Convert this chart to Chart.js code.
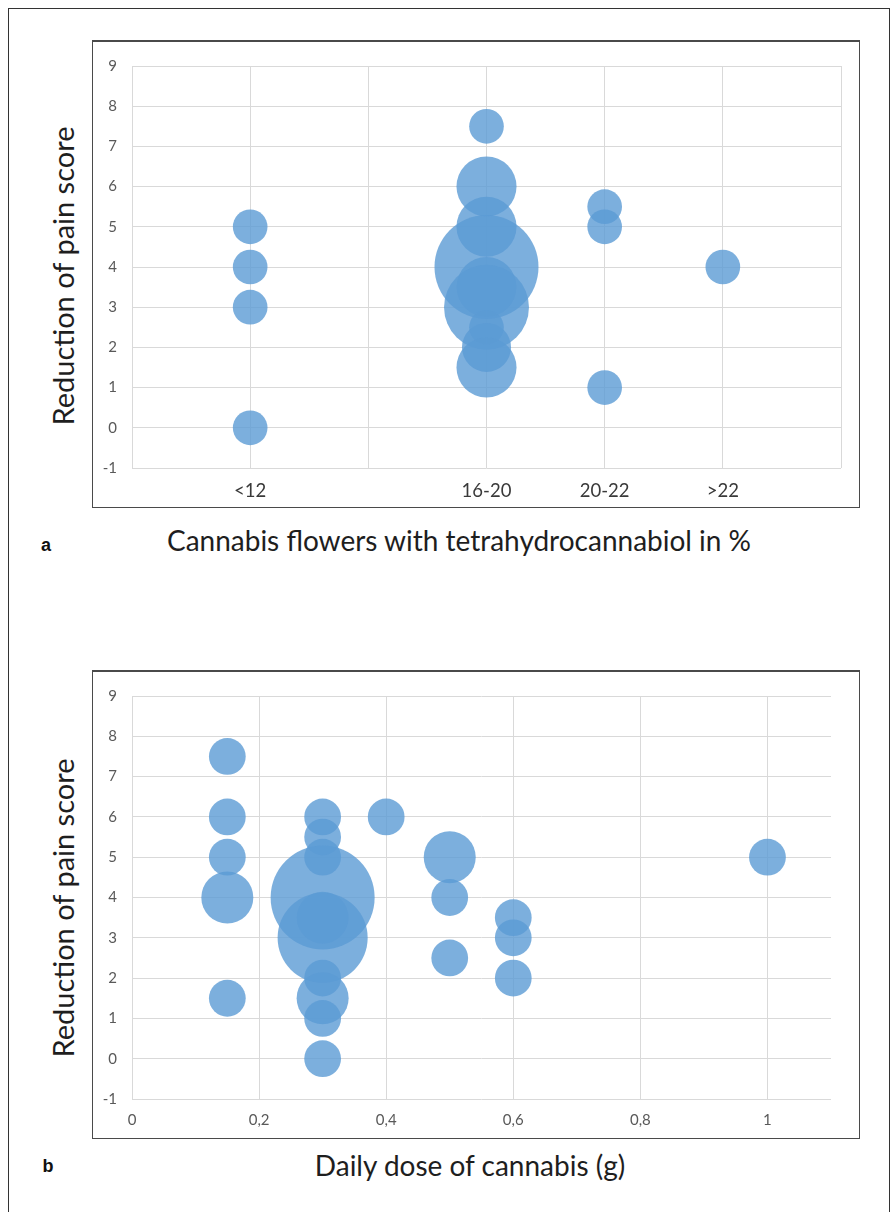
<!DOCTYPE html>
<html>
<head>
<meta charset="utf-8">
<script src="https://cdn.jsdelivr.net/npm/chart.js@4.4.1/dist/chart.umd.min.js"></script>
<style>
  html, body { margin: 0; padding: 0; background: #fff; }
  body { width: 896px; height: 1212px; position: relative; overflow: hidden; font-family: Lato, "Open Sans", sans-serif; }
  .sheet { position: absolute; left: 8px; top: 8px; width: 882px; height: 1300px; border: 1.5px solid #333; box-sizing: border-box; }
  .frame { position: absolute; left: 92px; width: 768px; border: 1px solid #4a4a4a; border-top-width: 2px; box-sizing: border-box; background: #fff; }
  .frame canvas { display: block; }
  .ytitle { position: absolute; font-size: 29px; color: #1e1e1e; white-space: nowrap; transform: translate(-50%, -50%) rotate(-90deg); }
  .xtitle { position: absolute; font-size: 28px; color: #1e1e1e; white-space: nowrap; transform: translate(-50%, -50%); }
  .tag { position: absolute; font: bold 18px "Liberation Sans", Arial, sans-serif; color: #111; transform: translate(-50%, -50%); }
</style>
</head>
<body>
<div class="sheet"></div>

<div class="frame" style="top:40px;height:468px;"><canvas id="thcChart" width="766" height="465"></canvas></div>
<div class="ytitle" style="left:62px;top:276px;">Reduction of pain score</div>
<div class="xtitle" style="left:459px;top:540px;">Cannabis flowers with tetrahydrocannabiol in %</div>
<div class="tag" style="left:46px;top:545px;">a</div>

<div class="frame" style="top:670px;height:469px;"><canvas id="doseChart" width="766" height="466"></canvas></div>
<div class="ytitle" style="left:62px;top:908px;">Reduction of pain score</div>
<div class="xtitle" style="left:470px;top:1165px;">Daily dose of cannabis (g)</div>
<div class="tag" style="left:48px;top:1166px;">b</div>

<script>
// Panel a: THC content groups (position on the x axis) vs. reduction of pain score
const thcTickLabels = ['', '<12', '', '16-20', '20-22', '>22', ''];
const thcGroup     = [1, 1, 1, 1, 3, 3, 3, 3, 3, 3, 3, 3, 3, 4, 4, 4, 5];
const thcReduction = [5, 4, 3, 0, 7.5, 6, 5, 4, 3.5, 3, 2.5, 2, 1.5, 5.5, 5, 1, 4];
const thcPatients  = [1, 1, 1, 1, 1, 3, 3, 9, 3, 6, 1, 2, 3, 1, 1, 1, 1];

// Panel b: daily dose in grams vs. reduction of pain score
const doseGrams     = [0.15, 0.15, 0.15, 0.15, 0.15, 0.3, 0.3, 0.3, 0.3, 0.3, 0.3, 0.3, 0.3, 0.3, 0.3, 0.4, 0.5, 0.5, 0.5, 0.6, 0.6, 0.6, 1];
const doseReduction = [7.5, 6, 5, 4, 1.5, 6, 5.5, 5, 4, 3.5, 3, 2, 1.5, 1, 0, 6, 5, 4, 2.5, 3.5, 3, 2, 5];
const dosePatients  = [1, 1, 1, 2, 1, 1, 1, 1, 8, 2, 6, 1, 2, 1, 1, 1, 2, 1, 1, 1, 1, 1, 1];

// Largest bubble radius in px; bubble area is proportional to the patient count
const MAX_BUBBLE_R = 52;
const BUBBLE_FILL = 'rgba(91, 155, 213, 0.8)';
const GRID = '#d9d9d9';
const TICK_GREY = '#595959';

function bubbles(xs, ys, counts) {
  const maxN = Math.max(...counts);
  return xs.map((x, i) => ({ x, y: ys[i], r: MAX_BUBBLE_R * Math.sqrt(counts[i] / maxN) }));
}

function yScale() {
  return {
    type: 'linear', min: -1, max: 9,
    afterFit: s => { s.width = 39; },
    grid: { color: GRID, lineWidth: 1, drawTicks: false },
    border: { display: false },
    ticks: { stepSize: 1, padding: 15, color: TICK_GREY, font: { family: 'Lato', size: 15 } }
  };
}

function baseOptions(xScale, padRight, padTop) {
  return {
    responsive: false, animation: false, events: [],
    layout: { autoPadding: false, padding: { top: padTop, right: padRight, left: 0, bottom: 0 } },
    plugins: { legend: { display: false }, tooltip: { enabled: false } },
    scales: { x: xScale, y: yScale() }
  };
}

new Chart(document.getElementById('thcChart'), {
  type: 'bubble',
  data: { datasets: [{ data: bubbles(thcGroup, thcReduction, thcPatients), backgroundColor: BUBBLE_FILL, borderWidth: 0, clip: false }] },
  options: baseOptions({
    type: 'linear', min: 0, max: thcTickLabels.length - 1,
    afterFit: s => { s.height = 39; },
    grid: { color: GRID, lineWidth: 1, drawTicks: false },
    border: { display: false },
    ticks: { stepSize: 1, autoSkip: false, maxRotation: 0, padding: 12, color: '#3a3a3a',
             font: { family: 'Lato', size: 18.5 }, callback: v => thcTickLabels[v] ?? '' }
  }, 18, 20)
});

new Chart(document.getElementById('doseChart'), {
  type: 'bubble',
  data: { datasets: [{ data: bubbles(doseGrams, doseReduction, dosePatients), backgroundColor: BUBBLE_FILL, borderWidth: 0, clip: false }] },
  options: baseOptions({
    type: 'linear', min: 0, max: 1.1,
    afterFit: s => { s.height = 39; },
    grid: { color: GRID, lineWidth: 1, drawTicks: false },
    border: { display: false },
    ticks: { stepSize: 0.2, includeBounds: false, autoSkip: false, maxRotation: 0, padding: 12, color: TICK_GREY,
             font: { family: 'Lato', size: 15 },
             callback: v => String(Math.round(v * 10) / 10).replace('.', ',') }
  }, 28, 19)
});
</script>
</body>
</html>
